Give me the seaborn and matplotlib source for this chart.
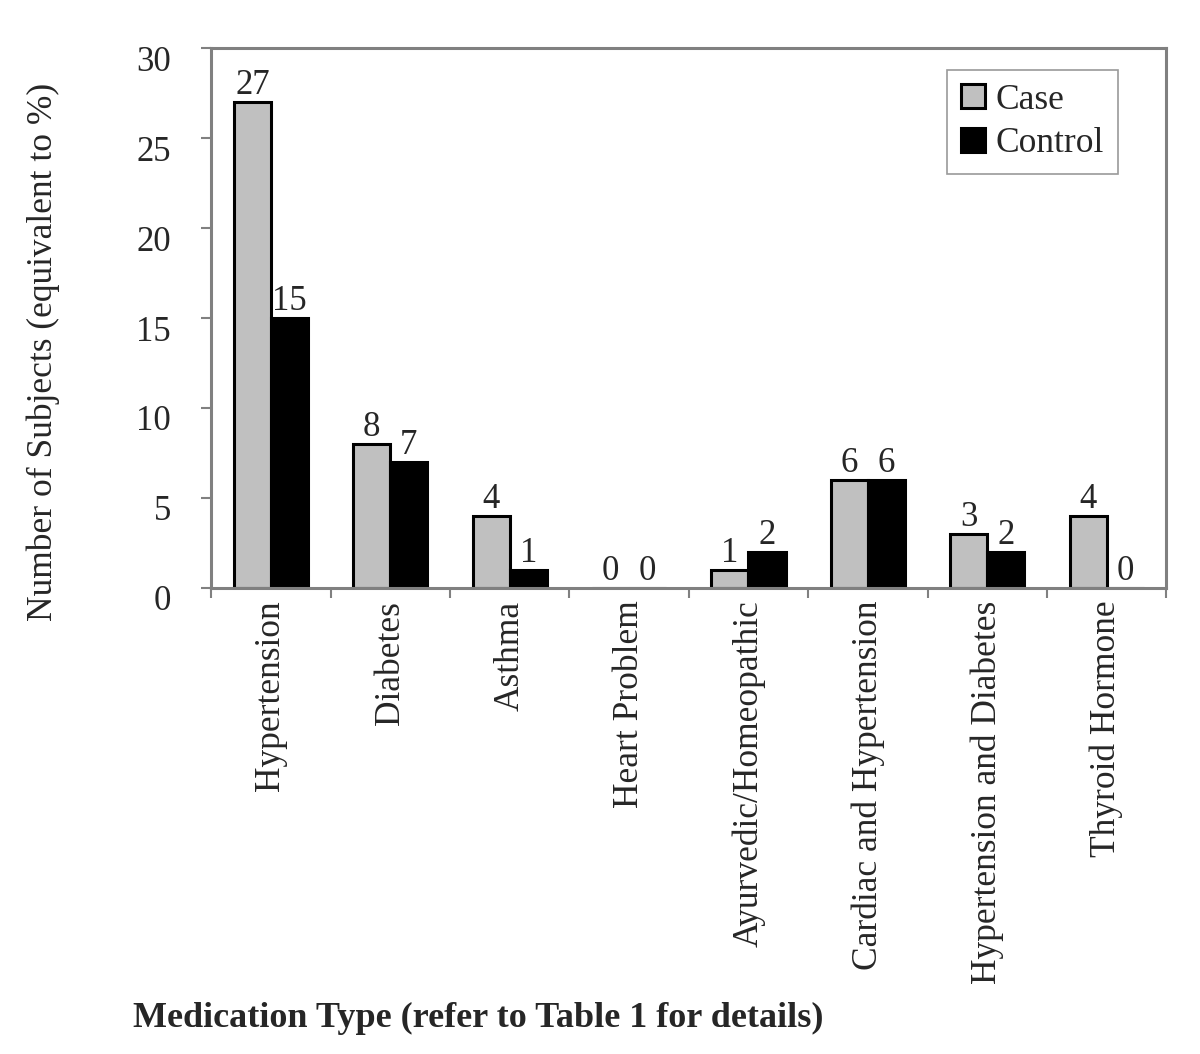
import matplotlib
matplotlib.use('Agg')
import matplotlib.pyplot as plt
import matplotlib.transforms as mtransforms
from matplotlib.ticker import FixedLocator
import numpy as np
import pandas as pd
import seaborn as sns

categories = ['Hypertension', 'Diabetes', 'Asthma', 'Heart Problem',
              'Ayurvedic/Homeopathic', 'Cardiac and Hypertension',
              'Hypertension and Diabetes', 'Thyroid Hormone']
case_values = [27, 8, 4, 0, 1, 6, 3, 4]
control_values = [15, 7, 1, 0, 2, 6, 2, 0]
groups = ['Case', 'Control']
y_ticks = [0, 5, 10, 15, 20, 25, 30]

df = pd.DataFrame({
    'category': categories * 2,
    'value': case_values + control_values,
    'group': [groups[0]] * len(categories) + [groups[1]] * len(categories),
})

sns.set_theme(style='white')
plt.rcParams['font.family'] = ['Liberation Serif', 'DejaVu Serif']

fig = plt.figure(figsize=(12, 10.54), dpi=100)
ax = fig.add_axes([0.176, 0.442, 0.796, 0.512])

sns.barplot(data=df, x='category', y='value', hue='group',
            palette={'Case': '#c0c0c0', 'Control': '#000000'},
            width=0.62, edgecolor='black', linewidth=2.2,
            saturation=1, ax=ax)

for cont in ax.containers:
    ax.bar_label(cont, fontsize=25, padding=0)

ax.set_ylim(0, 30)
ax.set_xlim(-0.5, len(categories) - 0.5)
ax.set_yticks(y_ticks)
ax.set_yticklabels([str(t) for t in y_ticks], fontsize=25)
ax.tick_params(axis='y', direction='out', length=7, width=1.5,
               color='#808080', left=True, pad=22)
# labels sit a little below their ticks, as in the original
shift = mtransforms.ScaledTranslation(0, -7 / 72, fig.dpi_scale_trans)
for lab in ax.get_yticklabels():
    lab.set_transform(lab.get_transform() + shift)

ax.set_xticks(range(len(categories)))
ax.set_xticklabels(categories, rotation=90, fontsize=25.5, va='top')
ax.tick_params(axis='x', which='major', length=0, pad=9)
ax.xaxis.set_minor_locator(FixedLocator(np.arange(-0.5, len(categories), 1.0)))
ax.tick_params(axis='x', which='minor', direction='out', length=7,
               width=1.5, color='#808080', bottom=True)

for s in ax.spines.values():
    s.set_color('#808080')
    s.set_linewidth(2.2)

ax.set_xlabel('')
ax.set_ylabel('Number of Subjects (equivalent to %)', fontsize=25.5)
ax.yaxis.set_label_coords(-0.158, 0.437)

leg = ax.legend(loc='upper right', bbox_to_anchor=(0.949, 0.961), fontsize=25.5,
                frameon=True, fancybox=False, edgecolor='#808080',
                handlelength=0.65, handleheight=0.65, handletextpad=0.3,
                borderpad=0.4, labelspacing=0.3, borderaxespad=0)
leg.get_frame().set_linewidth(1.2)

fig.text(0.111, 0.026, 'Medication Type (refer to Table 1 for details)',
         fontsize=26, fontweight='bold', ha='left', va='baseline')

fig.savefig('out.png', dpi=100)
